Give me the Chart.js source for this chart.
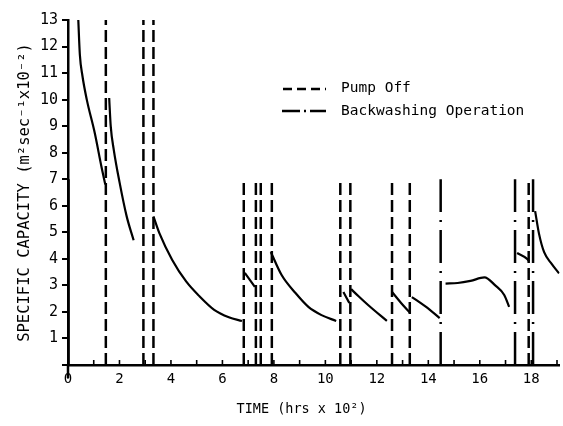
<!DOCTYPE html>
<html><head><meta charset="utf-8">
<script src="https://cdn.jsdelivr.net/npm/chart.js"></script>
<style>html,body{margin:0;padding:0;background:#fff}canvas{display:block}</style>
</head><body>
<canvas id="c" width="563" height="426"></canvas>
<script>
// ---- data ----
const xTickValues = [0,1,2,3,4,5,6,7,8,9,10,11,12,13,14,15,16,17,18,19];
const xTickLabels = [0,2,4,6,8,10,12,14,16,18];
const yTickValues = [0,1,2,3,4,5,6,7,8,9,10,11,12,13];
const yTickLabels = [1,2,3,4,5,6,7,8,9,10,11,12,13];

// specific capacity curves: [time (hrs x 10^2), capacity]
const curveA = [[0.40,13.0],[0.46,11.7],[0.56,10.9],[0.73,10.0],[1.04,8.74],[1.30,7.47],[1.45,6.8]];
const curveB = [[1.60,10.06],[1.66,9.0],[1.78,8.1],[2.00,6.9],[2.28,5.6],[2.55,4.7]];
const curveC = [[3.32,5.6],[3.55,4.97],[4.05,3.96],[4.59,3.15],[5.10,2.6],[5.68,2.08],[6.25,1.8],[6.76,1.66]];
const curveD = [[6.87,3.47],[7.26,2.94]];
const curveE = [[7.88,4.26],[8.30,3.39],[8.84,2.71],[9.34,2.19],[9.85,1.88],[10.42,1.66]];
const curveF = [[10.70,2.75],[10.93,2.34]];
const curveG = [[11.00,2.86],[11.30,2.58],[11.66,2.26],[12.39,1.66]];
const curveH = [[12.59,2.75],[12.95,2.33],[13.28,1.98]];
const curveI = [[13.36,2.56],[13.90,2.2],[14.44,1.77]];
const curveJ = [[14.67,3.07],[15.14,3.09],[15.64,3.17],[16.18,3.30],[16.60,3.0],[16.95,2.64],[17.14,2.19]];
const curveK = [[17.45,4.22],[17.84,4.0],[17.92,3.9]];
const curveL = [[18.15,5.8],[18.30,4.95],[18.50,4.25],[18.80,3.8],[19.08,3.45]];

// pump-off events (dashed verticals) and their heights
const pumpOffTimes = [1.47,2.93,3.32,6.83,7.30,7.49,7.92,10.58,10.97,12.59,13.28,17.90];
const pumpOffTops  = [13,13,13,7,7,7,7,7,7,7,7,7];
// backwashing operations (dash-dot verticals)
const backwashTimes = [0,14.48,17.37,18.07];
const backwashTops  = [7,7,7,7];

const legendLabels = ['Pump Off','Backwashing Operation'];

// ---- build datasets ----
const curves = [curveA,curveB,curveC,curveD,curveE,curveF,curveG,curveH,curveI,curveJ,curveK,curveL];
const datasets = [];
curves.forEach(c => datasets.push({
  data: c.map(([x,y]) => ({x,y})),
  borderColor:'#000', borderWidth:2.2, showLine:true, pointRadius:0,
  tension:0.4, cubicInterpolationMode:'monotone', fill:false
}));
pumpOffTimes.forEach((t,i) => datasets.push({
  data:[{x:t,y:0},{x:t,y:pumpOffTops[i]}],
  borderColor:'#000', borderWidth:2.5, borderDash:[12,5], showLine:true, pointRadius:0, fill:false
}));
backwashTimes.forEach((t,i) => datasets.push({
  data:[{x:t,y:0},{x:t,y:backwashTops[i]}],
  borderColor:'#000', borderWidth: t===0 ? 3.5 : 2.5, borderDash: t===0 ? [] : [33,8,2,8],
  showLine:true, pointRadius:0, fill:false
}));

const FONT = 'DejaVu Sans Mono';

const decor = {
  id:'decor',
  afterDraw(chart){
    const ctx = chart.ctx, xs = chart.scales.x, ys = chart.scales.y;
    const bottom = ys.getPixelForValue(0), left = xs.getPixelForValue(0);
    ctx.save();
    ctx.strokeStyle = '#000';
    // inside minor ticks on the time axis
    ctx.lineWidth = 1.6;
    xTickValues.forEach(v => {
      if (v === 0) return;
      const px = xs.getPixelForValue(v);
      ctx.beginPath(); ctx.moveTo(px, bottom); ctx.lineTo(px, bottom-5); ctx.stroke();
    });
    // y axis extending below the time axis
    ctx.lineWidth = 2.5;
    ctx.beginPath(); ctx.moveTo(left, bottom); ctx.lineTo(left, bottom+13); ctx.stroke();
    // legend
    ctx.lineWidth = 2.5;
    ctx.setLineDash([9,5]);
    ctx.beginPath(); ctx.moveTo(283, 89); ctx.lineTo(326, 89); ctx.stroke();
    ctx.setLineDash([18,4,2,4]);
    ctx.beginPath(); ctx.moveTo(282, 111); ctx.lineTo(326, 111); ctx.stroke();
    ctx.setLineDash([]);
    ctx.fillStyle = '#000';
    ctx.font = '14.5px "' + FONT + '"';
    ctx.textBaseline = 'middle';
    ctx.fillText(legendLabels[0], 341, 88);
    ctx.fillText(legendLabels[1], 341, 111);
    ctx.restore();
  }
};

new Chart(document.getElementById('c'), {
  type:'scatter',
  data:{datasets},
  options:{
    responsive:false, animation:false,
    layout:{padding:{top:20,right:0,left:0,bottom:0}},
    plugins:{legend:{display:false}, tooltip:{enabled:false}},
    scales:{
      x:{
        type:'linear', min:0, max:19.1,
        afterBuildTicks(s){ s.ticks = xTickValues.map(v => ({value:v})); },
        afterFit(s){ s.height = 61; },
        ticks:{autoSkip:false, maxRotation:0, padding:6, color:'#000',
          font:{family:FONT, size:14},
          callback:v => xTickLabels.includes(v) ? String(v) : ''},
        grid:{display:false, drawTicks:false},
        border:{display:true, color:'#000', width:2.5},
        title:{display:true, text:'TIME (hrs x 10²)   ', color:'#000',
          font:{family:FONT, size:13.5}, padding:{top:4,bottom:8}}
      },
      y:{
        type:'linear', min:0, max:13,
        afterBuildTicks(s){ s.ticks = yTickValues.map(v => ({value:v})); },
        afterFit(s){ s.width = 68; },
        ticks:{autoSkip:false, padding:4, color:'#000',
          font:{family:FONT, size:15},
          callback:v => yTickLabels.includes(v) ? String(v) : ''},
        grid:{display:true, drawOnChartArea:false, drawTicks:true, tickLength:6, color:'#000', lineWidth:2},
        border:{display:true, color:'#000', width:2.5},
        title:{display:true, text:'SPECIFIC CAPACITY (m²sec⁻¹x10⁻²)', color:'#000',
          font:{family:FONT, size:15.5}, padding:{top:16,bottom:0}}
      }
    }
  },
  plugins:[decor]
});
</script>
</body></html>
